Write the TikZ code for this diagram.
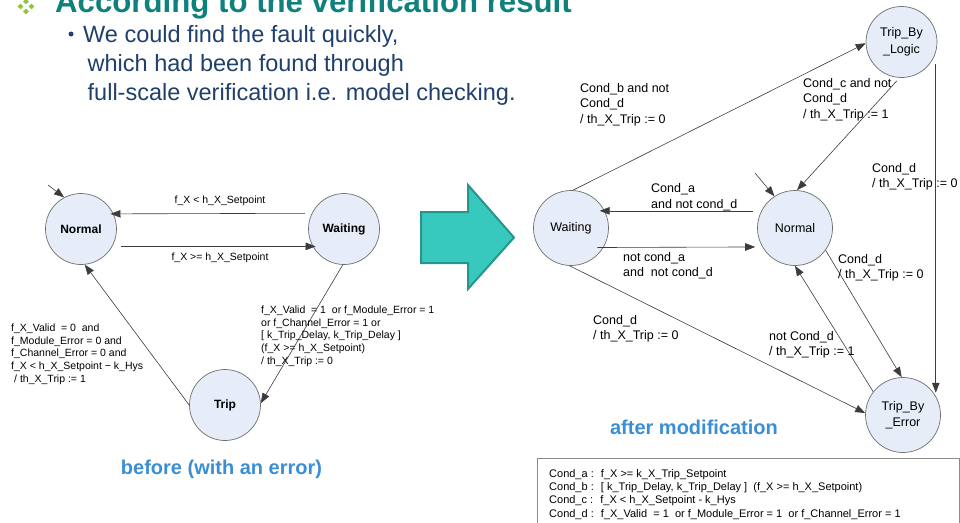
\documentclass[tikz,border=0pt]{standalone}
\usepackage{fontspec}
\setmainfont{Liberation Sans}
\usetikzlibrary{arrows.meta}
\definecolor{statefill}{HTML}{E6ECF8}
\definecolor{stateline}{HTML}{6E6E6E}
\definecolor{edgeline}{HTML}{3C3C3C}
\definecolor{titleteal}{HTML}{0E807D}
\definecolor{bodyblue}{HTML}{1F3F6C}
\definecolor{capblue}{HTML}{3A8ED4}
\definecolor{arrowfill}{HTML}{38C9BE}
\definecolor{arrowline}{HTML}{26958C}
\definecolor{leafgreen}{HTML}{8CC63F}
\definecolor{boxline}{HTML}{8A8A8A}

\begin{document}
\begin{tikzpicture}[x=1pt,y=-1pt,
  state/.style={circle, draw=stateline, fill=statefill, line width=0.7pt,
    inner sep=0pt, align=center, text=black},
  smallstate/.style={state, minimum size=71pt, font=\fontsize{12}{14}\selectfont\bfseries},
  bigstate/.style={state, minimum size=75pt, font=\fontsize{12.5}{16.5}\selectfont},
  edge/.style={draw=edgeline, line width=0.6pt, -{Triangle[length=10pt,width=7.5pt]}},
  smalllbl/.style={anchor=north west, inner sep=0pt, align=left,
    font=\fontsize{10.5}{12.8}\selectfont},
  biglbl/.style={anchor=north west, inner sep=0pt, align=left,
    font=\fontsize{12.5}{15.4}\selectfont},
  caption/.style={inner sep=0pt, text=capblue, font=\fontsize{20}{24}\selectfont\bfseries},
  bodytext/.style={anchor=base west, inner sep=0pt, text=bodyblue,
    font=\fontsize{23.5}{28}\selectfont},
  leaf/.style={fill=leafgreen, rotate=45, minimum size=4.2pt, inner sep=0pt}
]
\useasboundingbox (0,0) rectangle (960,522);
\clip (0,0) rectangle (960,522);

% ---------- heading ----------
\node[leaf] (lf1) at (26,1.5) {};
\node[leaf] (lf2) at (20.5,6.5) {};
\node[leaf] (lf3) at (31.5,6.5) {};
\node[leaf] (lf4) at (26,11.5) {};
\node[anchor=base west, inner sep=0pt, text=titleteal,
  font=\fontsize{31.2}{36}\selectfont\bfseries] (title) at (55,12.5)
  {According to the verification result};

\node[circle, fill=bodyblue, minimum size=5pt, inner sep=0pt] (dot) at (71,34) {};
\node[bodytext] (b1) at (83,42) {We could find the fault quickly,};
\node[bodytext] (b2) at (87.5,71) {which had been found through};
\node[bodytext] (b3) at (87.5,100) {full-scale verification i.e. model checking.};

% ---------- machine before the fix ----------
\node[smallstate] (LN) at (81,229) {Normal};
\node[smallstate] (LW) at (344,229) {Waiting};
\node[smallstate] (LT) at (225,405) {Trip};

\coordinate (Lstart) at (48,185);
\draw[edge] (Lstart) -- (LN.118);
\draw[edge, shorten <=7pt, shorten >=-3pt] (LW.154) -- (LN.25);
\draw[edge, shorten <=9pt, shorten >=-3pt] (LN.-29) -- (LW.-151);
\draw[edge] (LT.west) -- (LN.-84);
\draw[edge] (LW.-92) -- (LT.3);

\node[anchor=center, inner sep=0pt, font=\fontsize{10.5}{12.8}\selectfont] (l1) at (220,200.5)
  {f\_X < h\_X\_Setpoint};
\node[anchor=center, inner sep=0pt, font=\fontsize{10.5}{12.8}\selectfont] (l2) at (220,257.5)
  {f\_X >= h\_X\_Setpoint};
\node[smalllbl] (l3) at (11,323.5)
  {f\_X\_Valid~ = 0~ and\\
   f\_Module\_Error = 0 and\\
   f\_Channel\_Error = 0 and\\
   f\_X < h\_X\_Setpoint − k\_Hys\\
   \hspace*{3pt}/ th\_X\_Trip := 1};
\node[smalllbl] (l4) at (261,305.5)
  {f\_X\_Valid~ = 1~ or f\_Module\_Error = 1\\
   or f\_Channel\_Error = 1 or\\
   {[} k\_Trip\_Delay, k\_Trip\_Delay {]}\\
   (f\_X >= h\_X\_Setpoint)\\
   / th\_X\_Trip := 0};

\node[caption] (capL) at (221.5,469.5) {before (with an error)};

% ---------- block arrow ----------
\filldraw[fill=arrowfill, draw=arrowline, line width=2pt, line join=miter]
  (421,212) -- (468,212) -- (468,185) -- (514,237.5) -- (468,289) -- (468,263) -- (421,263) -- cycle;

% ---------- machine after the fix ----------
\node[bigstate] (RW) at (571,228) {Waiting};
\node[bigstate] (RN) at (795,228) {Normal};
\node[bigstate, minimum size=71pt] (RL) at (901.5,42) {Trip\_By\\\_Logic};
\node[bigstate] (RE) at (903,415) {Trip\_By\\\_Error};

\coordinate (Rstart) at (755,173);
\draw[edge] (Rstart) -- (RN.123);
\draw[edge] (RW.87) -- (RL.182);
\draw[edge, shorten <=4pt] (RL.-93) -- (RN.87);
\draw[edge] ([yshift=-12pt]RL.-17) -- (RL.-17 |- RE.36);
\draw[edge, shorten <=8pt, shorten >=-5pt] (RN.153) -- (RW.27);
\draw[edge, shorten <=-6pt, shorten >=7pt] (RW.-31) -- (RN.-150);
\draw[edge] (RN.-36) -- (RE.92);
\draw[edge] (RE.142) -- (RN.-90);
\draw[edge] (RW.-92) -- (RE.177);

\node[biglbl] (r1) at (580,83) {Cond\_b and not\\Cond\_d\\/ th\_X\_Trip := 0};
\node[biglbl] (r2) at (803,78) {Cond\_c and not\\Cond\_d\\/ th\_X\_Trip := 1};
\node[biglbl] (r3) at (872,163) {Cond\_d\\/ th\_X\_Trip := 0};
\node[biglbl] (r4) at (651,183.5) {Cond\_a\\and not cond\_d};
\node[biglbl] (r5) at (623,252) {not cond\_a\\and~ not cond\_d};
\node[biglbl] (r6) at (838,254) {Cond\_d\\/ th\_X\_Trip := 0};
\node[biglbl] (r7) at (769,331) {not Cond\_d\\/ th\_X\_Trip := 1};
\node[biglbl] (r8) at (593,315) {Cond\_d\\/ th\_X\_Trip := 0};

\node[caption] (capR) at (694,427) {after modification};

% ---------- legend of conditions ----------
\draw[draw=boxline, line width=0.9pt] (537,458) rectangle (959,540);
\node[anchor=north west, inner sep=0pt, align=left,
  font=\fontsize{11}{13.4}\selectfont] (legend) at (549,469)
  {Cond\_a :~ f\_X >= k\_X\_Trip\_Setpoint\\
   Cond\_b :~ {[} k\_Trip\_Delay, k\_Trip\_Delay {]}~ (f\_X >= h\_X\_Setpoint)\\
   Cond\_c :~ f\_X < h\_X\_Setpoint - k\_Hys\\
   Cond\_d :~ f\_X\_Valid~ = 1~ or f\_Module\_Error = 1~ or f\_Channel\_Error = 1};
\end{tikzpicture}
\end{document}
